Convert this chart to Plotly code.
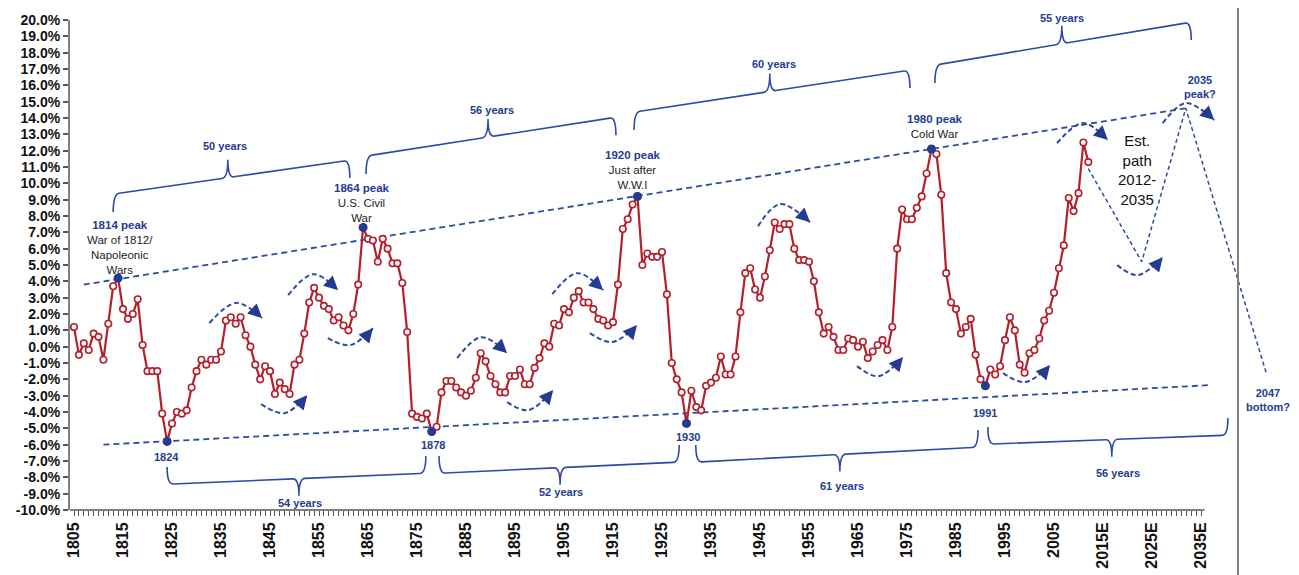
import plotly.graph_objects as go

# ---------------- data ----------------
years = list(range(1805, 2013))
values = [
    1.2, -0.5, 0.2, -0.2, 0.8, 0.6, -0.8, 1.4, 3.7, 4.2,
    2.3, 1.7, 2.0, 2.9, 0.1, -1.5, -1.5, -1.5, -4.1, -5.8,
    -4.7, -4.0, -4.1, -3.9, -2.5, -1.5, -0.8, -1.1, -0.8, -0.8,
    -0.3, 1.6, 1.8, 1.4, 1.8, 0.7, 0.0, -1.1, -2.0, -1.2,
    -1.5, -2.9, -2.2, -2.6, -2.9, -1.1, -0.8, 0.8, 2.7, 3.6,
    3.0, 2.5, 2.3, 1.6, 1.8, 1.3, 1.0, 2.0, 3.8, 7.3,
    6.6, 6.5, 5.2, 6.6, 6.0, 5.1, 5.1, 3.9, 0.9, -4.1,
    -4.3, -4.4, -4.1, -5.2, -4.9, -2.8, -2.1, -2.1, -2.5, -2.8,
    -3.0, -2.7, -1.9, -0.4, -0.9, -1.8, -2.3, -2.8, -2.8, -1.8,
    -1.8, -1.4, -2.3, -2.3, -1.3, -0.7, 0.2, 0.0, 1.4, 1.3,
    2.3, 2.1, 3.0, 3.4, 2.7, 2.7, 2.3, 1.7, 1.6, 1.3,
    1.5, 3.8, 7.2, 7.8, 8.7, 9.2, 5.0, 5.7, 5.5, 5.5,
    5.8, 3.2, -1.0, -2.0, -2.8, -4.7, -2.7, -3.7, -3.9, -2.4,
    -2.2, -1.9, -0.6, -1.7, -1.7, -0.6, 2.1, 4.5, 4.8, 3.5,
    3.0, 4.3, 5.9, 7.6, 7.2, 7.5, 7.5, 6.0, 5.3, 5.3,
    5.2, 4.0, 2.1, 0.8, 1.2, 0.6, -0.2, -0.2, 0.5, 0.4,
    0.0, 0.3, -0.7, -0.3, 0.1, 0.4, -0.2, 1.2, 6.0, 8.4,
    7.8, 7.8, 8.5, 9.2, 10.6, 12.1, 11.8, 9.3, 4.5, 2.7,
    2.3, 0.8, 1.2, 1.7, -0.5, -2.0, -2.4, -1.4, -1.7, -1.2,
    0.4, 1.8, 1.0, -1.1, -1.6, -0.4, -0.2, 0.5, 1.6, 2.2,
    3.3, 4.8, 6.2, 9.1, 8.3, 9.4, 12.5, 11.3,
]
turning_years = [1814, 1824, 1864, 1878, 1920, 1930, 1980, 1991]

tick_years = list(range(1805, 2036))
tick_labels = {y: (str(y) if y < 2015 else f"{y}E") for y in range(1805, 2036, 10)}
y_ticks = list(range(-10, 21))

# trend channel (year, value)
upper_trend = [(1807, 3.8), (2032, 14.6)]
lower_trend = [(1811, -6.0), (2037, -2.35)]
# estimated path 2012-2035 and beyond
est_path_x = [2012.0, 2022.9, 2031.9, 2048.3]
est_path_y = [10.9, 5.2, 14.6, -1.6]

# cycle braces: label, x0, x1, y_left, y_right, x_cusp, label_x, label_y, direction
braces = [
    ("50 years", 1813.0, 1861.3, 9.34, 11.42, 1836.4, 1835.8, 12.3, 1),
    ("56 years", 1864.6, 1915.6, 11.67, 14.05, 1889.5, 1890.3, 14.5, 1),
    ("60 years", 1919.3, 1975.6, 14.36, 16.93, 1947.0, 1947.9, 17.3, 1),
    ("55 years", 1980.7, 2033.0, 17.24, 19.87, 2006.6, 2006.6, 20.15, 1),
    ("54 years", 1824.0, 1876.8, -8.42, -7.75, 1850.9, 1851.1, -9.6, -1),
    ("52 years", 1879.5, 1928.5, -7.75, -7.07, 1904.2, 1904.4, -8.9, -1),
    ("61 years", 1931.9, 1989.5, -7.07, -6.15, 1961.3, 1961.7, -8.5, -1),
    ("56 years", 1991.5, 2040.5, -5.97, -5.42, 2016.8, 2018.1, -7.75, -1),
]

# curved arrows: (start, apex, end) in (year, value); kind 'over' or 'under'
arcs = [
    ("over", (1832.6, 1.44), (1838.1, 2.68), (1843.4, 1.75)),
    ("under", (1843.2, -3.52), (1847.9, -4.07), (1852.6, -2.97)),
    ("over", (1848.7, 3.15), (1853.8, 4.44), (1858.9, 3.46)),
    ("under", (1856.8, 0.52), (1861.3, 0.09), (1866.0, 1.13)),
    ("over", (1883.2, -0.70), (1888.1, 0.58), (1893.4, -0.40)),
    ("under", (1893.4, -3.40), (1897.7, -3.89), (1902.8, -2.66)),
    ("over", (1902.6, 3.21), (1907.7, 4.50), (1913.0, 3.46)),
    ("under", (1910.3, 0.83), (1914.8, 0.28), (1919.9, 1.32)),
    ("over", (1944.6, 7.38), (1949.1, 8.73), (1955.2, 7.62)),
    ("under", (1964.8, -1.19), (1969.1, -1.81), (1974.2, -0.64)),
    ("under", (1994.6, -1.62), (1999.1, -2.17), (2004.2, -1.13)),
    ("over", (2005.6, 12.46), (2010.9, 13.69), (2016.0, 12.65)),
    ("under", (2017.9, 4.99), (2022.1, 4.38), (2027.2, 5.48)),
    ("over", (2027.2, 13.69), (2031.9, 14.91), (2037.7, 13.87)),
]

# labels: (title, subtitle lines, x, y)
peak_labels = [
    ("1814 peak", ["War of 1812/", "Napoleonic", "Wars"], 1814.4, 6.09),
    ("1864 peak", ["U.S. Civil", "War"], 1863.7, 8.82),
    ("1920 peak", ["Just after", "W.W.I"], 1919.1, 10.81),
    ("1980 peak", ["Cold War"], 1980.7, 13.46),
]
blue_labels = [
    ("2035<br>peak?", 2034.8, 15.89),
    ("2047<br>bottom?", 2048.6, -3.28),
    ("1824", 1823.9, -6.75),
    ("1878", 1878.3, -6.03),
    ("1930", 1930.3, -5.52),
    ("1991", 1990.9, -4.07),
]
est_label = ("Est.<br>path<br>2012-<br>2035", 2021.9, 10.81)

# ---------------- style ----------------
RED = "#B3202C"
NAVY = "#243B92"
BLUE = "#2D4BA3"
GRAY = "#808080"
FONT = "Liberation Sans"

# page body has an 8px default margin; compensate so the plot area sits
# at x 70..1299, y 20..510 of the window
OFF = 8
L, R, T, B = 70 - OFF, 0, 20 - OFF, 65
W, H = 1299 - OFF, 575 - OFF
PLOT_W = W - L - R
PLOT_H = H - T - B
Y0, Y1 = -10, 20
PX_PER_YEAR = 4.9
x0r = 1805 - 4 / PX_PER_YEAR
x1r = x0r + PLOT_W / PX_PER_YEAR
axis_end_year = 2035.7


def xpaper(year):
    return (year - x0r) / (x1r - x0r)


def ypaper(v):
    return (v - Y0) / (Y1 - Y0)


def label(x, y, text, size, color):
    return dict(x=xpaper(x), y=ypaper(y), xref="paper", yref="paper",
                xanchor="center", yanchor="middle", align="center",
                text=text, showarrow=False,
                font=dict(family=FONT, size=size, color=color))


fig = go.Figure()

# trend channel
for pts in (upper_trend, lower_trend):
    fig.add_trace(go.Scatter(
        x=[p[0] for p in pts], y=[p[1] for p in pts], mode="lines",
        line=dict(color=BLUE, width=1.8, dash="6px,4px"), hoverinfo="skip"))

# curved arcs
annotations = []
for kind, s, m, e in arcs:
    fig.add_trace(go.Scatter(
        x=[s[0], m[0], e[0]], y=[s[1], m[1], e[1]], mode="lines",
        line=dict(color=BLUE, width=2, dash="5px,3px", shape="spline"),
        hoverinfo="skip"))
    if kind == "over":
        tail = (e[0] - 1.6, e[1] + 0.45)
    else:
        tail = (e[0] - 1.4, e[1] - 0.5)
    annotations.append(dict(
        x=e[0], y=e[1], ax=tail[0], ay=tail[1], xref="x", yref="y",
        axref="x", ayref="y", text="", showarrow=True, arrowhead=2,
        arrowsize=1.4, arrowwidth=2, arrowcolor=NAVY, standoff=0))

# estimated path
fig.add_trace(go.Scatter(
    x=est_path_x, y=est_path_y, mode="lines",
    line=dict(color=BLUE, width=1.5, dash="4px,3px"), hoverinfo="skip"))

# main series
fig.add_trace(go.Scatter(
    x=years, y=values, mode="lines+markers",
    line=dict(color=RED, width=2.2),
    marker=dict(symbol="circle", size=6.5, color="white",
                line=dict(color=RED, width=1.6)),
    hoverinfo="x+y"))

# turning points
tp_vals = [values[years.index(y)] for y in turning_years]
fig.add_trace(go.Scatter(
    x=turning_years, y=tp_vals, mode="markers",
    marker=dict(size=9, color=NAVY), hoverinfo="skip"))

# braces
shapes = []
for text, bx0, bx1, yl, yr, xc, lx, ly, s in braces:
    d = 1.1 if s > 0 else 1.05
    r = 1.2

    def yline(x, bx0=bx0, bx1=bx1, yl=yl, yr=yr):
        return yl + (yr - yl) * (x - bx0) / (bx1 - bx0)

    yc = yline(xc)
    path = (f"M {bx0},{yl - s * d} Q {bx0},{yl} {bx0 + r},{yline(bx0 + r)} "
            f"L {xc - r},{yline(xc - r)} Q {xc},{yc} {xc},{yc + s * d} "
            f"Q {xc},{yc} {xc + r},{yline(xc + r)} "
            f"L {bx1 - r},{yline(bx1 - r)} Q {bx1},{yr} {bx1},{yr - s * d}")
    shapes.append(dict(type="path", path=path, xref="x", yref="y",
                       line=dict(color=BLUE, width=1.6)))
    annotations.append(label(lx, ly, f"<b>{text}</b>", 11, NAVY))

# peak labels
for title, subs, lx, ly in peak_labels:
    txt = f"<b><span style='color:{NAVY}'>{title}</span></b><br>" + "<br>".join(subs)
    annotations.append(label(lx, ly, txt, 11.5, "#222222"))
for txt, lx, ly in blue_labels:
    annotations.append(label(lx, ly, f"<b>{txt}</b>", 11, NAVY))
annotations.append(label(est_label[1], est_label[2], est_label[0], 15, "#111111"))

# x-axis line (only up to the last category) and right border line
shapes.append(dict(type="line", xref="paper", yref="paper",
                   x0=0, x1=xpaper(axis_end_year), y0=0, y1=0,
                   line=dict(color=GRAY, width=2)))
border_x = (1238 - 70) / PLOT_W
shapes.append(dict(type="line", xref="paper", yref="paper",
                   x0=border_x, x1=border_x,
                   y0=-(B + OFF) / PLOT_H, y1=1 + (T + OFF) / PLOT_H,
                   line=dict(color=GRAY, width=2)))

fig.update_layout(
    width=W, height=H,
    margin=dict(l=L, r=R, t=T, b=B),
    plot_bgcolor="white", paper_bgcolor="white",
    showlegend=False,
    shapes=shapes,
    annotations=annotations,
    xaxis=dict(
        range=[x0r, x1r], showgrid=False, zeroline=False, showline=False,
        tickmode="array", tickvals=tick_years,
        ticktext=[tick_labels.get(y, "") for y in tick_years],
        ticks="outside", ticklen=5, tickwidth=1, tickcolor="#555555",
        tickangle=-90, automargin=False,
        tickfont=dict(family=FONT, size=16, color="#111111", weight="bold"),
    ),
    yaxis=dict(
        range=[Y0, Y1], showgrid=False, zeroline=False, showline=True,
        linecolor=GRAY, linewidth=2,
        tickmode="array", tickvals=y_ticks,
        ticktext=[f"{v:.1f}%" for v in y_ticks],
        ticks="outside", ticklen=5, tickwidth=1.5, tickcolor="#555555",
        automargin=False,
        tickfont=dict(family=FONT, size=14, color="#111111", weight="bold"),
    ),
)

fig.write_html("out.html")
